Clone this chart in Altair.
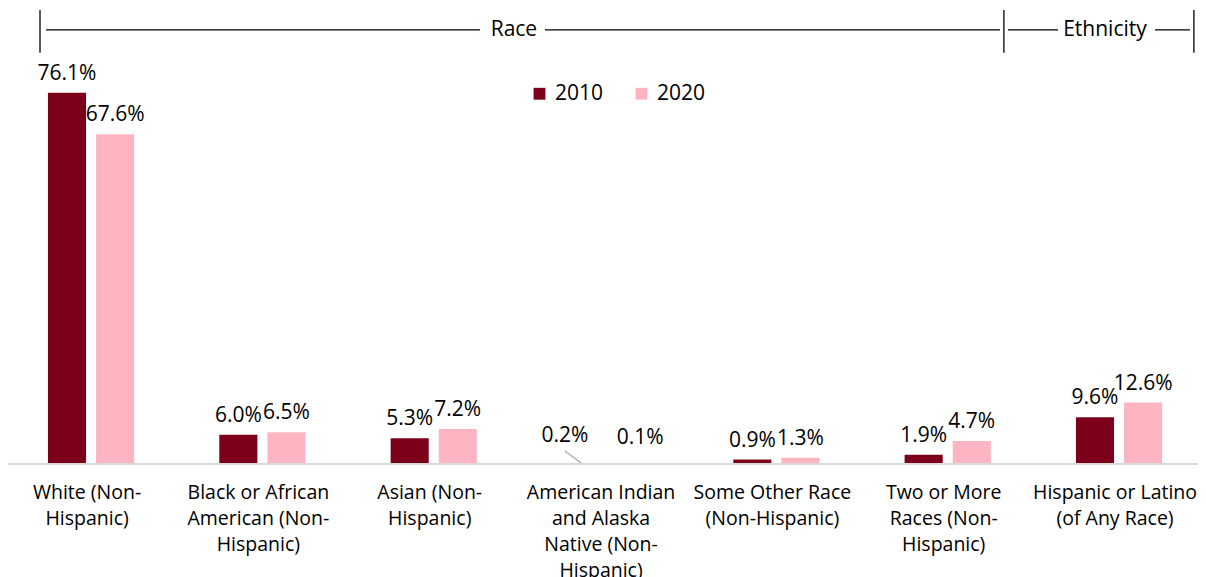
import altair as alt
import pandas as pd

categories = [
    "White (Non-|Hispanic)",
    "Black or African|American (Non-|Hispanic)",
    "Asian (Non-|Hispanic)",
    "American Indian|and Alaska|Native (Non-|Hispanic)",
    "Some Other Race|(Non-Hispanic)",
    "Two or More|Races (Non-|Hispanic)",
    "Hispanic or Latino|(of Any Race)",
]
years = ["2010", "2020"]
v2010 = [76.1, 6.0, 5.3, 0.2, 0.9, 1.9, 9.6]
v2020 = [67.6, 6.5, 7.2, 0.1, 1.3, 4.7, 12.6]

group_names = ["Race", "Ethnicity"]

FONT = "Open Sans"
C2010 = "#7C0019"
C2020 = "#FFB5C1"

rows = []
for c, a, b in zip(categories, v2010, v2020):
    rows.append({"category": c, "year": "2010", "value": a})
    rows.append({"category": c, "year": "2020", "value": b})
df = pd.DataFrame(rows)

W, H = 1190, 456
XR = [-2.6, 1196.7]   # pixel range of the 7 category bands
YMAX = 93.5
AIAN = categories[3]

x = alt.X("category:N", sort=categories, title=None,
          scale=alt.Scale(paddingInner=0, paddingOuter=0, range=XR),
          axis=alt.Axis(labelExpr="split(datum.label, '|')", labelAngle=0,
                        labelFontSize=19.5, labelLineHeight=26, labelPadding=19,
                        labelOffset=-4,
                        labelColor="#000000", labelFont=FONT, labelLimit=0,
                        ticks=False, domain=False, grid=False))
xo = alt.XOffset("year:N", scale=alt.Scale(paddingInner=0.208, paddingOuter=0.885))
y = alt.Y("value:Q", scale=alt.Scale(domain=[0, YMAX], nice=False), axis=None)

base = alt.Chart(df)

bars = base.mark_bar().encode(
    x=x, xOffset=xo, y=y,
    color=alt.Color("year:N", scale=alt.Scale(domain=years, range=[C2010, C2020]),
                    legend=alt.Legend(title=None, orient="none", legendX=521, legendY=75,
                                      direction="horizontal", symbolType="square",
                                      symbolSize=140, labelFontSize=21, labelFont=FONT,
                                      labelColor="#000000", labelOffset=5,
                                      columnPadding=27, symbolStrokeWidth=0)),
)

lab_base = base.transform_calculate(lab="format(datum.value, '.1f') + '%'")
text_style = dict(baseline="bottom", fontSize=21, font=FONT, color="#000000")
enc = dict(x=x, xOffset=xo, y=y, text="lab:N")

labels = lab_base.transform_filter(alt.datum.category != AIAN).mark_text(
    dy=-9, **text_style).encode(**enc)
lab_a10 = lab_base.transform_filter(
    (alt.datum.category == AIAN) & (alt.datum.year == "2010")
).mark_text(dx=-16, dy=-17, **text_style).encode(**enc)
lab_a20 = lab_base.transform_filter(
    (alt.datum.category == AIAN) & (alt.datum.year == "2020")
).mark_text(dx=11, dy=-16, **text_style).encode(**enc)

main = alt.layer(bars, labels, lab_a10, lab_a20)

# bracket annotation, baseline and leader line (in category-index units across the 7 bands)
hseg = pd.DataFrame({
    "x": [0.237, 3.149, 5.852, 6.710],
    "x2": [2.770, 5.805, 6.144, 6.914],
    "y": [89.0, 89.0, 89.0, 89.0],
})
vseg = pd.DataFrame({
    "x": [0.202, 5.828, 6.937],
    "y": [84.3, 84.3, 84.3],
    "y2": [93.1, 93.1, 93.1],
})
gtext = pd.DataFrame({"x": [2.968, 6.418], "y": [89.0, 89.0], "t": group_names})
baseline = pd.DataFrame({"x": [0.009], "x2": [7.007], "y": [0.0]})
leader = pd.DataFrame({"x": [3.266], "x2": [3.360], "y": [2.67], "y2": [0.2]})

xq = alt.Scale(domain=[0, 7], range=XR, nice=False, zero=False)
yq = alt.Scale(domain=[0, YMAX], nice=False)

h_rules = alt.Chart(hseg).mark_rule(color="#000000", strokeWidth=1.3).encode(
    x=alt.X("x:Q", scale=xq, axis=None), x2="x2:Q",
    y=alt.Y("y:Q", scale=yq, axis=None))
v_rules = alt.Chart(vseg).mark_rule(color="#000000", strokeWidth=1.3).encode(
    x=alt.X("x:Q", scale=xq, axis=None),
    y=alt.Y("y:Q", scale=yq, axis=None), y2="y2:Q")
g_text = alt.Chart(gtext).mark_text(fontSize=21, font=FONT, color="#000000").encode(
    x=alt.X("x:Q", scale=xq, axis=None),
    y=alt.Y("y:Q", scale=yq, axis=None), text="t:N")
base_rule = alt.Chart(baseline).mark_rule(color="#d9d9d9", strokeWidth=2).encode(
    x=alt.X("x:Q", scale=xq, axis=None), x2="x2:Q",
    y=alt.Y("y:Q", scale=yq, axis=None))
leader_rule = alt.Chart(leader).mark_rule(color="#a6a6a6", strokeWidth=1.2).encode(
    x=alt.X("x:Q", scale=xq, axis=None), x2="x2:Q",
    y=alt.Y("y:Q", scale=yq, axis=None), y2="y2:Q")

overlay = alt.layer(base_rule, leader_rule, h_rules, v_rules, g_text)

chart = alt.layer(main, overlay).resolve_scale(x="independent").properties(
    width=W, height=H, background="#ffffff",
    autosize=alt.AutoSizeParams(type="none"),
    padding={"left": 0, "top": 0, "right": 0, "bottom": 113}
).configure_view(stroke=None)

chart.save("out.html", embed_options={"renderer": "svg", "actions": False})
